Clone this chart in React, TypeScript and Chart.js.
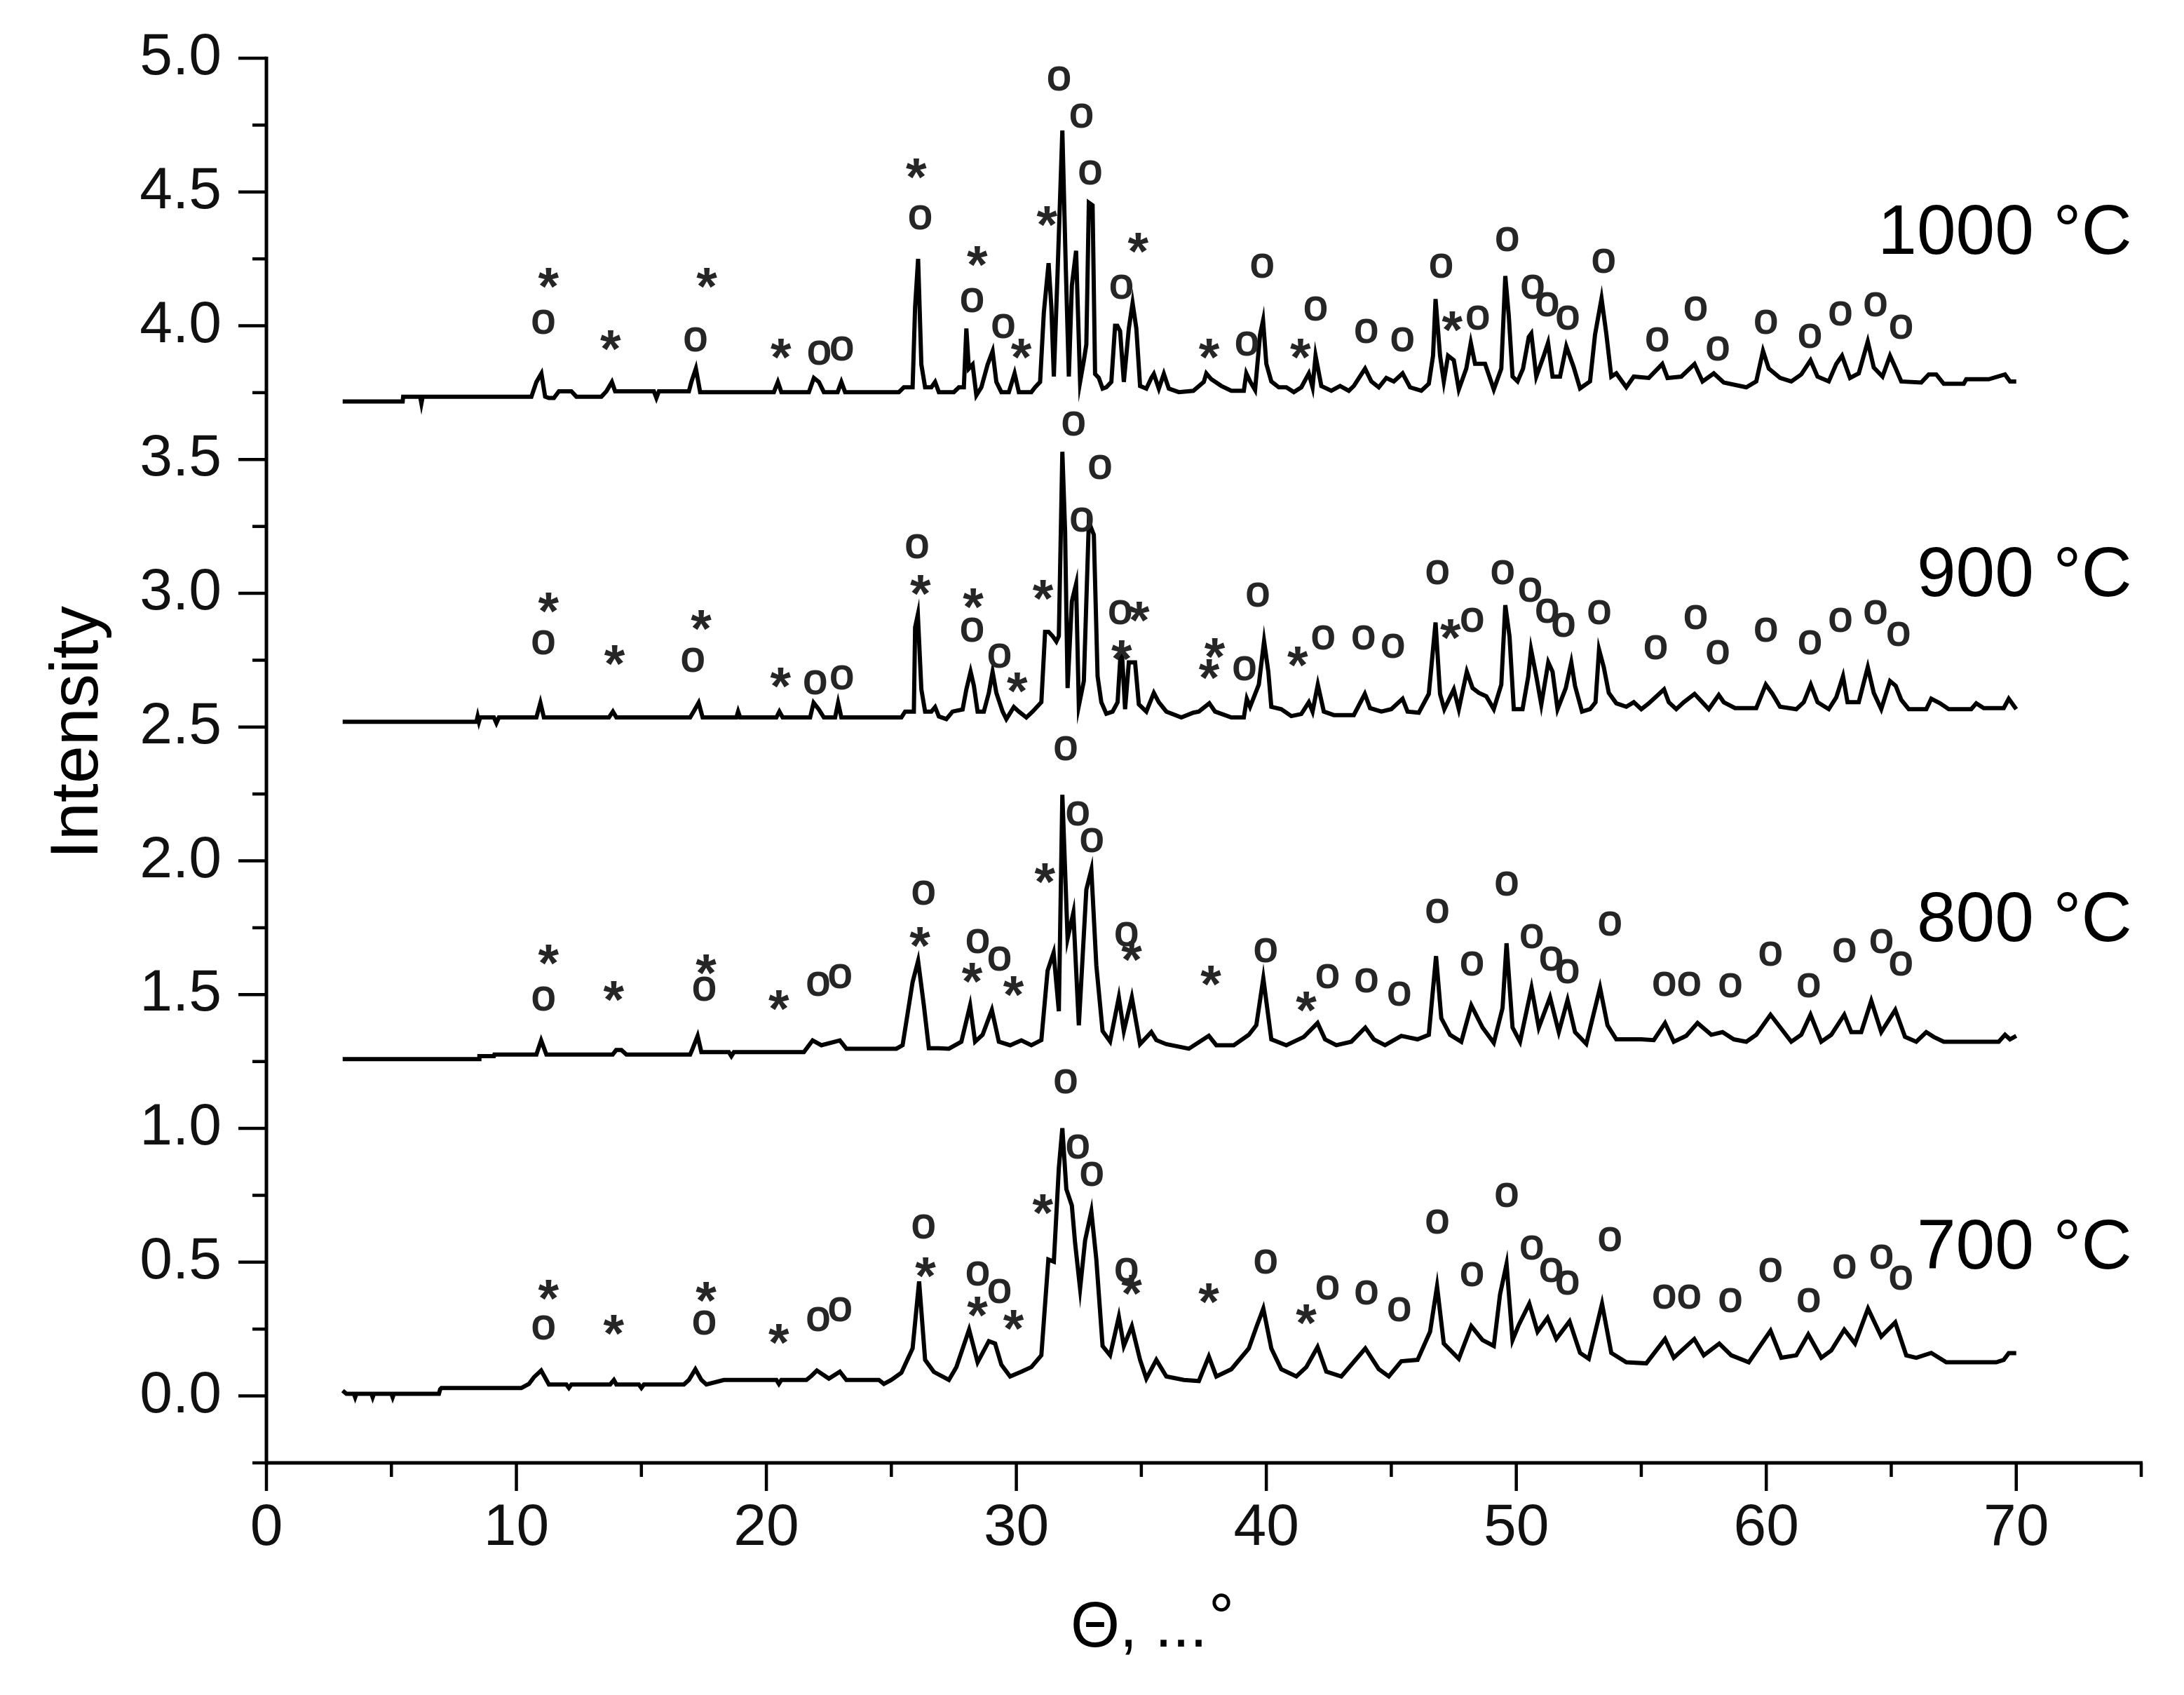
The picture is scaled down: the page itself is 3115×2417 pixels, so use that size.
import React, { useEffect, useRef } from 'react';
import { Chart, registerables } from 'chart.js';

Chart.register(...registerables);

const FONT = '"Liberation Sans", Arial, Helvetica, sans-serif';
const W = 3115;
const H = 2417;

// ---- axes ----
const xTickValues = [0, 10, 20, 30, 40, 50, 60, 70];
const xMinorValues = [5, 15, 25, 35, 45, 55, 65, 75];
const yTickValues = [0, 0.5, 1, 1.5, 2, 2.5, 3, 3.5, 4, 4.5, 5];
const yMinorValues = [-0.25, 0.25, 0.75, 1.25, 1.75, 2.25, 2.75, 3.25, 3.75, 4.25, 4.75];
const xTitle = 'Θ, ...';
const xTitleSup = '°';
const yTitle = 'Intensity';

// ---- series labels ----
const seriesNames = ['1000 °C', '900 °C', '800 °C', '700 °C'];
const nameX = [74.63, 74.63, 74.63, 74.63];
const nameY = [4.27, 2.99, 1.7, 0.475];

// ---- XRD patterns [2θ, intensity] ----
const xrd1000: [number, number][] = [
  [3.05,3.717],[5.45,3.717],[5.47,3.735],[6.15,3.735],[6.2,3.71],[6.25,3.735],[10.6,3.735],[10.8,3.79],[11.0,3.822],[11.15,3.735],
  [11.3,3.73],[11.5,3.73],[11.7,3.755],[12.2,3.755],[12.4,3.735],[13.4,3.735],[13.6,3.755],[13.82,3.79],[13.95,3.755],[15.5,3.755],
  [15.6,3.73],[15.7,3.755],[16.9,3.755],[17.0,3.79],[17.18,3.84],[17.35,3.752],[20.3,3.752],[20.46,3.79],[20.6,3.752],[21.7,3.752],
  [21.9,3.805],[22.1,3.79],[22.3,3.752],[22.85,3.752],[23.0,3.79],[23.15,3.752],[25.3,3.752],[25.5,3.77],[25.85,3.77],[25.95,4.07],
  [26.07,4.25],[26.2,3.855],[26.35,3.77],[26.6,3.77],[26.75,3.79],[26.9,3.752],[27.5,3.752],[27.7,3.77],[27.9,3.77],[28.0,3.99],
  [28.1,3.84],[28.25,3.855],[28.4,3.74],[28.6,3.77],[28.85,3.855],[29.05,3.905],[29.2,3.79],[29.4,3.752],[29.7,3.752],[29.93,3.822],
  [30.1,3.752],[30.6,3.752],[30.75,3.77],[30.95,3.79],[31.1,4.05],[31.29,4.234],[31.4,4.07],[31.5,3.81],[31.65,4.2],[31.84,4.73],
  [31.98,4.21],[32.1,3.81],[32.22,4.15],[32.39,4.28],[32.55,3.79],[32.7,3.87],[32.8,3.93],[32.9,4.46],[33.05,4.45],[33.15,3.82],
  [33.3,3.805],[33.45,3.765],[33.6,3.77],[33.8,3.79],[33.95,4.0],[34.04,4.0],[34.15,3.98],[34.3,3.79],[34.5,3.99],[34.65,4.085],
  [34.8,3.99],[34.95,3.775],[35.2,3.765],[35.4,3.805],[35.5,3.82],[35.7,3.765],[35.9,3.82],[36.1,3.765],[36.5,3.752],[37.08,3.757],
  [37.5,3.79],[37.6,3.822],[37.8,3.8],[38.2,3.775],[38.6,3.757],[39.1,3.757],[39.2,3.822],[39.35,3.792],[39.55,3.76],[39.75,3.967],
  [39.87,4.02],[40.0,3.858],[40.2,3.792],[40.5,3.77],[40.8,3.77],[41.1,3.752],[41.4,3.77],[41.7,3.822],[41.85,3.77],[41.97,3.888],
  [42.2,3.775],[42.6,3.757],[42.95,3.775],[43.3,3.757],[43.5,3.775],[43.95,3.84],[44.2,3.792],[44.5,3.77],[44.8,3.805],[45.1,3.792],
  [45.45,3.822],[45.75,3.77],[46.2,3.757],[46.5,3.783],[46.67,3.888],[46.77,4.1],[46.95,3.888],[47.1,3.792],[47.27,3.888],[47.5,3.871],
  [47.7,3.762],[48.0,3.84],[48.18,3.936],[48.35,3.858],[48.75,3.858],[49.1,3.762],[49.4,3.84],[49.56,4.186],[49.7,4.037],[49.85,3.81],
  [50.05,3.792],[50.27,3.84],[50.5,3.958],[50.6,3.971],[50.8,3.81],[51.1,3.888],[51.27,3.936],[51.45,3.81],[51.75,3.81],[52.0,3.923],
  [52.3,3.844],[52.55,3.766],[52.95,3.792],[53.15,3.967],[53.41,4.102],[53.6,3.971],[53.8,3.81],[54.0,3.822],[54.4,3.77],[54.7,3.81],
  [55.3,3.805],[55.84,3.857],[56.05,3.805],[56.6,3.81],[57.13,3.857],[57.45,3.792],[57.9,3.822],[58.3,3.788],[59.2,3.77],[59.6,3.792],
  [59.87,3.906],[60.1,3.84],[60.55,3.805],[61.0,3.792],[61.4,3.818],[61.77,3.871],[62.05,3.81],[62.5,3.792],[62.8,3.857],[63.03,3.888],
  [63.35,3.805],[63.7,3.822],[64.06,3.941],[64.3,3.844],[64.65,3.81],[64.95,3.888],[65.18,3.84],[65.4,3.792],[66.2,3.788],[66.5,3.818],
  [66.8,3.818],[67.1,3.783],[67.9,3.783],[68.0,3.8],[68.3,3.8],[68.9,3.8],[69.55,3.818],[69.75,3.792],[70.0,3.792],
];

const xrd900: [number, number][] = [
  [3.05,2.52],[8.4,2.52],[8.45,2.54],[8.5,2.52],[8.55,2.536],[9.1,2.536],[9.2,2.515],[9.3,2.536],[10.8,2.536],[10.96,2.591],
  [11.1,2.536],[13.7,2.536],[13.86,2.558],[14.0,2.536],[16.95,2.536],[17.1,2.56],[17.29,2.591],[17.45,2.536],[18.8,2.536],[18.87,2.558],
  [18.95,2.536],[20.4,2.536],[20.52,2.558],[20.65,2.536],[21.75,2.536],[21.89,2.591],[22.1,2.566],[22.3,2.536],[22.75,2.536],[22.87,2.591],
  [23.0,2.536],[25.4,2.536],[25.55,2.558],[25.9,2.558],[25.95,2.873],[26.06,2.921],[26.2,2.641],[26.35,2.558],[26.6,2.558],[26.75,2.575],
  [26.9,2.54],[27.2,2.53],[27.45,2.558],[27.85,2.566],[28.0,2.641],[28.17,2.707],[28.3,2.655],[28.45,2.558],[28.7,2.558],[28.9,2.628],
  [29.05,2.707],[29.2,2.628],[29.45,2.558],[29.6,2.53],[29.9,2.575],[30.1,2.558],[30.4,2.536],[30.65,2.558],[31.0,2.593],[31.15,2.856],
  [31.29,2.856],[31.45,2.84],[31.6,2.82],[31.7,2.84],[31.84,3.529],[31.95,3.232],[32.05,2.646],[32.22,2.97],[32.39,3.035],[32.5,2.58],
  [32.7,2.672],[32.9,3.267],[33.1,3.219],[33.25,2.69],[33.4,2.593],[33.6,2.55],[33.85,2.558],[34.05,2.593],[34.2,2.821],[34.35,2.567],
  [34.5,2.742],[34.75,2.742],[34.9,2.585],[35.2,2.558],[35.5,2.628],[35.7,2.593],[36.0,2.558],[36.6,2.536],[37.08,2.554],[37.3,2.558],
  [37.72,2.589],[37.95,2.558],[38.6,2.536],[39.1,2.536],[39.22,2.606],[39.35,2.576],[39.7,2.659],[39.91,2.821],[40.08,2.707],[40.2,2.576],
  [40.6,2.567],[41.0,2.541],[41.4,2.549],[41.7,2.593],[41.85,2.558],[42.06,2.659],[42.3,2.558],[42.7,2.545],[43.5,2.545],[43.94,2.624],
  [44.15,2.571],[44.6,2.558],[45.0,2.567],[45.45,2.606],[45.65,2.558],[46.1,2.554],[46.5,2.624],[46.77,2.891],[46.95,2.624],[47.12,2.567],
  [47.5,2.641],[47.7,2.567],[48.02,2.707],[48.25,2.646],[48.5,2.628],[48.8,2.615],[49.1,2.567],[49.4,2.659],[49.56,2.956],[49.73,2.838],
  [49.9,2.567],[50.25,2.567],[50.48,2.69],[50.59,2.79],[50.8,2.69],[51.0,2.584],[51.28,2.742],[51.45,2.707],[51.65,2.567],[51.98,2.646],
  [52.2,2.742],[52.35,2.654],[52.63,2.558],[52.95,2.567],[53.17,2.593],[53.31,2.79],[53.5,2.724],[53.7,2.628],[54.0,2.589],[54.4,2.576],
  [54.7,2.593],[55.0,2.567],[55.3,2.589],[55.91,2.641],[56.1,2.593],[56.4,2.567],[56.7,2.593],[57.13,2.624],[57.35,2.602],[57.7,2.567],
  [58.1,2.62],[58.3,2.593],[58.75,2.571],[59.6,2.571],[59.98,2.659],[60.25,2.624],[60.55,2.576],[61.2,2.567],[61.5,2.593],[61.78,2.659],
  [62.05,2.593],[62.5,2.567],[62.8,2.611],[63.07,2.69],[63.25,2.593],[63.7,2.593],[64.06,2.724],[64.3,2.628],[64.6,2.567],[64.95,2.672],
  [65.18,2.654],[65.4,2.602],[65.7,2.567],[66.4,2.567],[66.6,2.606],[66.95,2.589],[67.3,2.567],[68.2,2.567],[68.4,2.589],[68.7,2.571],
  [69.5,2.571],[69.7,2.606],[70.0,2.567],
];

const xrd800: [number, number][] = [
  [3.05,1.259],[8.5,1.259],[8.52,1.27],[9.1,1.27],[9.12,1.276],[10.8,1.276],[10.99,1.329],[11.2,1.276],[13.85,1.276],[13.99,1.293],[14.2,1.293],[14.4,1.276],
  [16.95,1.276],[17.05,1.298],[17.25,1.346],[17.4,1.285],[18.5,1.285],[18.6,1.27],[18.7,1.285],[20.4,1.285],[21.5,1.285],[21.85,1.329],
  [22.2,1.311],[22.94,1.329],[23.2,1.298],[25.2,1.298],[25.45,1.311],[25.85,1.547],[26.07,1.626],[26.3,1.46],[26.5,1.3],[26.9,1.3],
  [27.3,1.298],[27.8,1.324],[28.15,1.46],[28.35,1.324],[28.65,1.35],[29.02,1.443],[29.3,1.324],[29.75,1.311],[30.2,1.329],[30.6,1.311],
  [31.0,1.33],[31.25,1.59],[31.49,1.657],[31.7,1.438],[31.84,2.247],[32.05,1.71],[32.28,1.806],[32.5,1.385],[32.8,1.893],[33.0,1.967],
  [33.2,1.609],[33.45,1.364],[33.75,1.325],[34.1,1.49],[34.3,1.364],[34.62,1.49],[34.95,1.315],[35.4,1.36],[35.6,1.33],[36.0,1.315],
  [36.9,1.298],[37.7,1.346],[38.0,1.311],[38.7,1.311],[39.3,1.35],[39.6,1.386],[39.88,1.561],[40.2,1.333],[40.8,1.311],[41.5,1.342],
  [42.05,1.394],[42.35,1.333],[42.8,1.311],[43.4,1.324],[43.96,1.377],[44.3,1.333],[44.75,1.311],[45.4,1.346],[46.05,1.333],[46.5,1.35],
  [46.79,1.644],[47.0,1.412],[47.35,1.35],[47.8,1.324],[48.2,1.46],[48.65,1.377],[49.1,1.32],[49.45,1.45],[49.61,1.692],[49.85,1.377],
  [50.15,1.324],[50.61,1.526],[50.9,1.377],[51.35,1.49],[51.7,1.36],[52.05,1.48],[52.35,1.36],[52.8,1.316],[53.35,1.526],[53.65,1.385],
  [54.0,1.333],[55.0,1.333],[55.5,1.33],[55.95,1.394],[56.3,1.324],[56.8,1.346],[57.25,1.394],[57.8,1.35],[58.25,1.36],[58.7,1.333],
  [59.2,1.324],[59.6,1.35],[60.17,1.425],[60.5,1.385],[61.0,1.324],[61.4,1.35],[61.77,1.425],[62.2,1.324],[62.6,1.35],[63.12,1.425],
  [63.4,1.36],[63.8,1.36],[64.2,1.477],[64.6,1.36],[65.16,1.443],[65.55,1.342],[66.0,1.324],[66.4,1.36],[66.7,1.342],[67.1,1.324],
  [69.3,1.324],[69.55,1.35],[69.75,1.333],[70.0,1.346],
];

const xrd700: [number, number][] = [
  [3.05,0.02],[3.2,0.008],[3.5,0.008],[3.55,-0.005],[3.6,0.008],[4.2,0.008],[4.25,-0.005],[4.3,0.008],[5.0,0.008],[5.05,-0.005],
  [5.1,0.008],[6.9,0.008],[6.95,0.025],[7.0,0.03],[10.2,0.03],[10.5,0.045],[10.7,0.07],[10.99,0.095],[11.3,0.043],[12.0,0.043],
  [12.1,0.03],[12.2,0.043],[13.75,0.043],[13.9,0.06],[14.0,0.043],[14.9,0.043],[15.0,0.03],[15.1,0.043],[16.7,0.043],[16.9,0.06],
  [17.16,0.1],[17.4,0.06],[17.6,0.043],[18.3,0.06],[20.4,0.06],[20.5,0.045],[20.6,0.06],[21.6,0.06],[21.8,0.075],[22.02,0.095],
  [22.5,0.065],[22.94,0.091],[23.2,0.06],[24.5,0.06],[24.7,0.045],[25.0,0.06],[25.4,0.087],[25.85,0.178],[26.11,0.428],[26.35,0.135],
  [26.7,0.09],[27.3,0.06],[27.6,0.108],[28.11,0.248],[28.45,0.126],[28.9,0.205],[29.15,0.196],[29.4,0.117],[29.75,0.073],[30.2,0.091],
  [30.6,0.108],[31.0,0.152],[31.28,0.51],[31.5,0.502],[31.7,0.852],[31.84,1.001],[32.0,0.773],[32.22,0.712],[32.35,0.572],[32.55,0.401],
  [32.75,0.581],[33.0,0.69],[33.2,0.51],[33.45,0.187],[33.75,0.152],[34.1,0.296],[34.3,0.187],[34.62,0.261],[34.95,0.135],[35.2,0.065],
  [35.6,0.135],[36.0,0.073],[36.7,0.06],[37.3,0.056],[37.7,0.148],[38.0,0.073],[38.6,0.1],[39.3,0.178],[39.6,0.257],[39.88,0.327],
  [40.2,0.178],[40.6,0.1],[41.2,0.073],[41.6,0.108],[42.05,0.183],[42.4,0.091],[43.0,0.073],[43.96,0.178],[44.5,0.1],[44.9,0.073],
  [45.4,0.13],[46.05,0.135],[46.55,0.24],[46.83,0.41],[47.1,0.196],[47.7,0.139],[48.2,0.261],[48.65,0.209],[49.1,0.187],[49.35,0.38],
  [49.61,0.493],[49.85,0.209],[50.1,0.266],[50.52,0.345],[50.85,0.24],[51.25,0.292],[51.6,0.213],[52.13,0.279],[52.55,0.161],[52.9,0.139],
  [53.43,0.345],[53.8,0.161],[54.4,0.126],[55.2,0.122],[55.95,0.213],[56.3,0.143],[57.12,0.213],[57.5,0.152],[58.12,0.196],[58.6,0.152],
  [59.3,0.126],[60.17,0.244],[60.6,0.143],[61.2,0.152],[61.68,0.23],[62.2,0.143],[62.6,0.17],[63.12,0.248],[63.55,0.196],[64.07,0.327],
  [64.6,0.222],[65.16,0.275],[65.6,0.152],[66.0,0.143],[66.6,0.161],[67.2,0.126],[69.2,0.126],[69.5,0.135],[69.7,0.16],[70.0,0.16],
];

// ---- phase marks [symbol, 2θ, intensity] ----
type Mark = [string, number, number];
const marks1000: Mark[] = [
  ['*',11.29,4.177],['o',11.07,4.015],['*',13.77,3.945],['*',17.62,4.177],['o',17.16,3.95],['*',20.59,3.914],['o',22.11,3.899],['o',23.01,3.914],
  ['*',26.0,4.588],['o',26.15,4.406],['*',28.44,4.26],['o',28.22,4.096],['o',29.47,3.998],['*',30.2,3.914],['*',31.23,4.409],['o',31.7,4.924],
  ['o',32.6,4.785],['o',32.95,4.572],['o',34.2,4.146],['*',34.88,4.31],['*',37.72,3.914],['o',39.22,3.932],['o',39.83,4.225],['*',41.37,3.914],
  ['o',41.97,4.063],['o',43.99,3.98],['o',45.44,3.95],['o',46.99,4.225],['*',47.44,4.015],['o',48.45,4.03],['o',49.63,4.325],['o',50.65,4.146],
  ['o',51.23,4.08],['o',52.05,4.03],['o',53.49,4.242],['o',55.63,3.95],['o',57.17,4.063],['o',58.05,3.914],['o',59.98,4.015],['o',61.74,3.962],
  ['o',62.96,4.045],['o',64.36,4.08],['o',65.39,3.997],
];
const marks900: Mark[] = [
  ['*',11.29,2.965],['o',11.07,2.816],['*',13.93,2.768],['*',17.4,2.899],['o',17.05,2.751],['*',20.57,2.685],['o',21.95,2.667],['o',23.01,2.685],
  ['o',26.02,3.177],['*',26.17,3.031],['*',28.28,2.98],['o',28.22,2.864],['o',29.32,2.768],['*',30.04,2.667],['*',31.07,3.013],['o',32.28,3.634],
  ['o',33.34,3.472],['o',32.61,3.276],['o',34.15,2.93],['*',34.92,2.93],['*',34.22,2.786],['*',37.94,2.794],['*',37.72,2.716],['o',39.12,2.72],
  ['*',41.26,2.764],['o',39.65,2.996],['o',42.27,2.834],['o',43.88,2.834],['o',45.06,2.803],['o',46.84,3.079],['*',47.37,2.864],['o',48.23,2.9],
  ['o',49.45,3.079],['o',50.55,3.013],['o',51.23,2.934],['o',51.88,2.882],['o',53.31,2.93],['o',55.57,2.799],['o',57.17,2.912],['o',58.05,2.781],
  ['o',59.98,2.864],['o',61.74,2.816],['o',62.96,2.9],['o',64.36,2.93],['o',65.28,2.847],
];
const marks800: Mark[] = [
  ['*',11.29,1.648],['o',11.08,1.486],['*',13.9,1.512],['*',17.59,1.613],['o',17.51,1.521],['*',20.5,1.478],['o',22.07,1.539],['o',22.94,1.57],
  ['o',26.28,1.88],['*',26.15,1.714],['o',28.45,1.701],['*',28.24,1.582],['o',29.32,1.635],['*',29.89,1.53],['*',31.15,1.954],['o',31.97,2.422],
  ['o',32.45,2.177],['o',33.01,2.077],['o',34.4,1.727],['*',34.62,1.661],['*',37.79,1.57],['o',39.97,1.666],['*',41.6,1.473],['o',42.44,1.57],
  ['o',44.0,1.552],['o',45.31,1.504],['o',46.83,1.814],['o',48.22,1.617],['o',49.61,1.915],['o',50.61,1.718],['o',51.39,1.635],['o',52.04,1.587],
  ['o',53.74,1.766],['o',55.91,1.539],['o',56.91,1.539],['o',58.56,1.534],['o',60.16,1.652],['o',61.69,1.534],['o',63.12,1.666],['o',64.6,1.701],
  ['o',65.38,1.617],
];
const marks700: Mark[] = [
  ['*',11.29,0.397],['o',11.08,0.257],['*',13.9,0.266],['*',17.59,0.388],['o',17.51,0.275],['*',20.5,0.231],['o',22.07,0.288],['o',22.94,0.323],
  ['o',26.28,0.633],['*',26.37,0.48],['o',28.45,0.458],['*',28.45,0.332],['o',29.32,0.393],['*',29.89,0.283],['*',31.06,0.716],['o',31.97,1.176],
  ['o',32.45,0.931],['o',33.01,0.83],['o',34.4,0.471],['*',34.62,0.415],['*',37.7,0.384],['o',39.97,0.502],['*',41.6,0.305],['o',42.44,0.406],
  ['o',44.0,0.388],['o',45.31,0.323],['o',46.83,0.651],['o',48.22,0.454],['o',49.61,0.751],['o',50.61,0.555],['o',51.39,0.471],['o',52.04,0.423],
  ['o',53.74,0.585],['o',55.91,0.371],['o',56.91,0.371],['o',58.56,0.358],['o',60.16,0.471],['o',61.69,0.358],['o',63.12,0.485],['o',64.6,0.52],
  ['o',65.38,0.441],
];

const allSeries = [xrd1000, xrd900, xrd800, xrd700];
const allMarks = [marks1000, marks900, marks800, marks700];

function drawCentered(ctx: CanvasRenderingContext2D, s: string, cx: number, cy: number, outline: boolean) {
  const m = ctx.measureText(s);
  const x = cx - (m.actualBoundingBoxRight - m.actualBoundingBoxLeft) / 2;
  const y = cy + (m.actualBoundingBoxAscent - m.actualBoundingBoxDescent) / 2;
  ctx.fillText(s, x, y);
  if (outline) ctx.strokeText(s, x, y);
}

const decorPlugin = {
  id: 'decor',
  afterDraw(chart: any) {
    const ctx: CanvasRenderingContext2D = chart.ctx;
    const xs = chart.scales.x;
    const ys = chart.scales.y;
    const x0 = xs.getPixelForValue(0);
    const x1 = xs.getPixelForValue(75);
    const yTop = ys.getPixelForValue(5);
    const yBot = ys.getPixelForValue(-0.25);
    ctx.save();
    ctx.strokeStyle = '#000';
    ctx.lineCap = 'butt';
    const seg = (ax: number, ay: number, bx: number, by: number) => {
      ctx.beginPath();
      ctx.moveTo(ax, ay);
      ctx.lineTo(bx, by);
      ctx.stroke();
    };
    // axis lines
    ctx.lineWidth = 5;
    seg(x0, yTop - 2.25, x0, yBot + 2.5);
    seg(x0, yBot, x1 + 2, yBot);
    // ticks
    ctx.lineWidth = 4.5;
    yTickValues.forEach((v) => { const p = ys.getPixelForValue(v); seg(x0 - 40, p, x0, p); });
    yMinorValues.forEach((v) => { const p = ys.getPixelForValue(v); seg(x0 - 20, p, x0, p); });
    xTickValues.forEach((v) => { const p = xs.getPixelForValue(v); seg(p, yBot, p, yBot + 40); });
    xMinorValues.forEach((v) => { const p = xs.getPixelForValue(v); seg(p, yBot, p, yBot + 20); });

    // phase marks
    ctx.fillStyle = '#262626';
    ctx.strokeStyle = '#262626';
    ctx.lineWidth = 2;
    ctx.textAlign = 'left';
    ctx.textBaseline = 'alphabetic';
    allMarks.forEach((marks) => {
      marks.forEach(([sym, mx, my]) => {
        const isO = sym === 'o';
        ctx.font = isO ? `62px ${FONT}` : `bold 76px ${FONT}`;
        drawCentered(ctx, sym, xs.getPixelForValue(mx), ys.getPixelForValue(my), isO);
      });
    });

    // temperature labels
    ctx.fillStyle = '#000';
    ctx.font = `100px ${FONT}`;
    ctx.textAlign = 'right';
    seriesNames.forEach((n, i) => {
      ctx.fillText(n, xs.getPixelForValue(nameX[i]), ys.getPixelForValue(nameY[i]));
    });

    // axis titles
    ctx.font = `90px ${FONT}`;
    ctx.textAlign = 'left';
    const tx = x0 + 1147;
    const ty = yBot + 262;
    ctx.fillText(xTitle, tx, ty);
    const w = ctx.measureText(xTitle).width;
    ctx.fillText(xTitleSup, tx + w + 2, ty - 12);

    ctx.save();
    ctx.font = `97px ${FONT}`;
    ctx.translate(x0 - 241, (yTop + yBot) / 2 - 40);
    ctx.rotate(-Math.PI / 2);
    ctx.textAlign = 'center';
    ctx.fillText(yTitle, 0, 0);
    ctx.restore();

    ctx.restore();
  },
};

export default function App() {
  const ref = useRef<HTMLCanvasElement>(null);
  useEffect(() => {
    const canvas = ref.current;
    if (!canvas) return;
    const chart = new Chart(canvas, {
      type: 'line',
      data: {
        datasets: allSeries.map((s, i) => ({
          label: seriesNames[i],
          data: s.map(([x, y]) => ({ x, y })),
          borderColor: '#000',
          borderWidth: 6,
          pointRadius: 0,
          tension: 0,
          fill: false,
        })),
      },
      options: {
        responsive: false,
        animation: false,
        devicePixelRatio: 1,
        layout: { padding: { left: 0, top: 83, right: 61, bottom: 0 } },
        plugins: { legend: { display: false }, tooltip: { enabled: false }, title: { display: false } },
        scales: {
          x: {
            type: 'linear',
            min: 0,
            max: 75,
            afterFit: (s: any) => { s.height = 331; s.paddingLeft = 0; s.paddingRight = 0; s.paddingTop = 0; s.paddingBottom = 0; },
            afterBuildTicks: (s: any) => { s.ticks = xTickValues.map((v) => ({ value: v })); },
            grid: { display: false, drawTicks: false },
            border: { display: false },
            ticks: {
              autoSkip: false,
              maxRotation: 0,
              padding: 43,
              color: '#111',
              font: { family: FONT, size: 84 },
              callback: (v: any) => String(v),
            },
          },
          y: {
            type: 'linear',
            min: -0.25,
            max: 5,
            afterFit: (s: any) => { s.width = 380; s.paddingTop = 0; s.paddingBottom = 0; s.paddingLeft = 0; s.paddingRight = 0; },
            afterBuildTicks: (s: any) => { s.ticks = yTickValues.map((v) => ({ value: v })); },
            grid: { display: false, drawTicks: false },
            border: { display: false },
            ticks: {
              autoSkip: false,
              padding: 64,
              color: '#111',
              font: { family: FONT, size: 84 },
              callback: (v: any) => Number(v).toFixed(1),
            },
          },
        },
      },
      plugins: [decorPlugin],
    } as any);
    return () => chart.destroy();
  }, []);
  return (
    <div style={{ position: 'fixed', left: 0, top: 0, width: W, height: H, background: '#fff' }}>
      <canvas ref={ref} width={W} height={H} style={{ display: 'block', width: W, height: H }} />
    </div>
  );
}
